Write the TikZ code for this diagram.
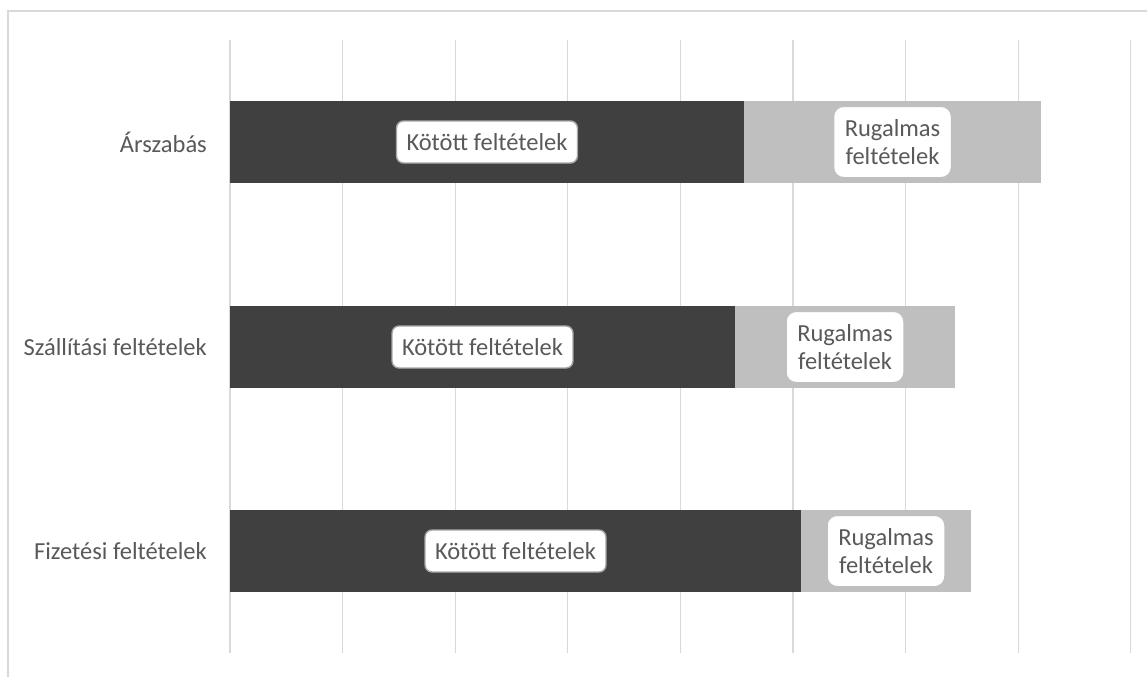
\documentclass[tikz,border=0pt]{standalone}
\usepackage{fontspec}
\setmainfont{Carlito}
\definecolor{darkbar}{HTML}{404040}
\definecolor{lightbar}{HTML}{BFBFBF}
\definecolor{gridc}{HTML}{D9D9D9}
\definecolor{txt}{HTML}{595959}
\definecolor{boxedge}{HTML}{A6A6A6}
\begin{document}
\begin{tikzpicture}[x=1pt,y=-1pt,
  every node/.style={font=\fontsize{24.5}{28.5}\selectfont, text=txt},
  gridline/.style={draw=gridc, line width=1.2pt},
  seg/.style={minimum height=82pt, inner sep=0pt, outer sep=0pt, anchor=west},
  darkseg/.style={seg, fill=darkbar},
  lightseg/.style={seg, fill=lightbar},
  fixlabel/.style={draw=boxedge, line width=1.4pt, fill=white, rounded corners=7pt,
    inner xsep=10pt, inner ysep=0pt, minimum height=42pt},
  flexlabel/.style={draw=lightbar, line width=1pt, fill=white, rounded corners=10pt,
    inner xsep=11pt, inner ysep=0pt, minimum height=71pt, align=center},
  catlabel/.style={anchor=east, inner sep=0pt}
]
\useasboundingbox (0,0) rectangle (1147,677);
\fill[white] (0,0) rectangle (1147,677);
% frame
\draw[gridc, line width=1.2pt] (8,677) -- (8,11) -- (1147,11);
% gridlines
\foreach \i in {0,...,8} {
  \draw[gridline] ({230+\i*112.6},40) -- ({230+\i*112.6},653);
}
% bars
\node[darkseg, minimum width=514pt] (d1) at (230,142) {};
\node[lightseg, minimum width=297pt] (l1) at (d1.east) {};
\node[darkseg, minimum width=505pt] (d2) at (230,347) {};
\node[lightseg, minimum width=220pt] (l2) at (d2.east) {};
\node[darkseg, minimum width=571pt] (d3) at (230,551) {};
\node[lightseg, minimum width=170pt] (l3) at (d3.east) {};
% category labels
\node[catlabel] (c1) at (207,142) {Árszabás};
\node[catlabel] (c2) at (207,347) {Szállítási feltételek};
\node[catlabel] (c3) at (207,551) {Fizetési feltételek};
% data labels
\node[fixlabel] (k1) at (d1.center) {Kötött feltételek};
\node[flexlabel] (r1) at (l1.center) {Rugalmas\\feltételek};
\node[fixlabel] (k2) at (d2.center) {Kötött feltételek};
\node[flexlabel] (r2) at (l2.center) {Rugalmas\\feltételek};
\node[fixlabel] (k3) at (d3.center) {Kötött feltételek};
\node[flexlabel] (r3) at (l3.center) {Rugalmas\\feltételek};
\end{tikzpicture}
\end{document}
